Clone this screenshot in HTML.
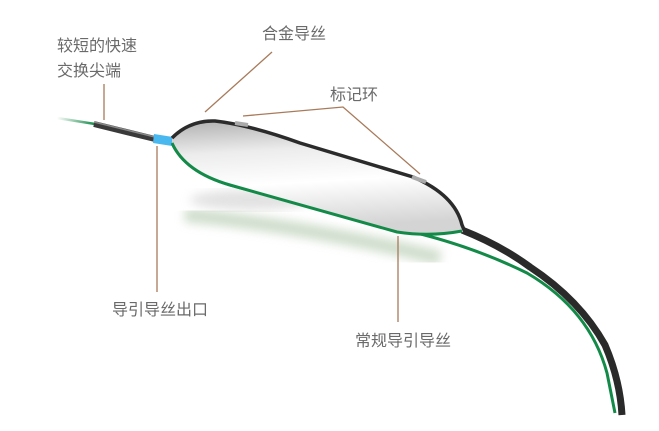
<!DOCTYPE html>
<html><head><meta charset="utf-8"><style>
html,body{margin:0;padding:0;background:#fff;}
svg{display:block}
text{font-family:"Liberation Sans","Noto Sans CJK SC",sans-serif;font-size:16px;fill:#6a6a6a;}
</style></head><body>
<svg width="659" height="431" viewBox="0 0 659 431" xmlns="http://www.w3.org/2000/svg">
<defs>
<linearGradient id="bal" x1="0" y1="0" x2="0.15" y2="1">
<stop offset="0" stop-color="#b0b0b0"/><stop offset="0.3" stop-color="#ececec"/>
<stop offset="0.6" stop-color="#ffffff"/><stop offset="1" stop-color="#d4d4d4"/>
</linearGradient>
<filter id="bl"><feGaussianBlur stdDeviation="5"/></filter>
<linearGradient id="wl" x1="0" x2="1"><stop offset="0" stop-color="#fff"/><stop offset="1" stop-color="#168a4a"/></linearGradient>
</defs>
<ellipse cx="250" cy="200" rx="60" ry="10" fill="#cfcfcf" filter="url(#bl)" opacity="0.6"/>
<path d="M185 215 Q300 225 440 258" stroke="#b9cdb4" stroke-width="14" fill="none" filter="url(#bl)" opacity="0.7"/>
<path d="M57 118 L95 124" stroke="url(#wl)" stroke-width="2.5" fill="none"/>
<path d="M172 143 Q185 172 230 185 L380 225 Q460 240 527 273 Q590 310 607 373 L615 413" stroke="#138a47" stroke-width="3" fill="none"/>
<path d="M462 230 Q500 245 530 267 Q580 300 605 345 Q620 380 622 415" stroke="#2a2a2a" stroke-width="7" fill="none"/>
<path d="M94 124 L155 139" stroke="#3a3a3a" stroke-width="6" fill="none"/>
<path d="M94 122 L155 137" stroke="#888" stroke-width="1.5" fill="none"/>
<path d="M154 134 L173 137 L172 146 L153 143 Z" fill="#49b8ef"/>
<path d="M172 138 Q190 120 215 121 Q250 125 300 143 L413 177 Q455 195 462 225 L465 232 Q430 235 397 232 L230 185 Q185 172 172 143 Z" fill="url(#bal)"/>
<path d="M172 138 Q190 120 215 121 Q250 125 300 143 L413 177 Q455 195 462 225 L465 232" stroke="#2b2b2b" stroke-width="3.5" fill="none"/>
<path d="M235 123 L248 125" stroke="#aaa" stroke-width="4"/>
<path d="M412 177 L426 182" stroke="#aaa" stroke-width="4"/>
<path d="M172 143 Q185 172 230 185 L397 232 Q430 237 462 231" stroke="#138a47" stroke-width="3" fill="none"/>
<g stroke="#a87a5a" stroke-width="1.3" fill="none">
<path d="M104 84 L104 120"/>
<path d="M272 52 L205 112"/>
<path d="M243 116 L343 107 L420 174"/>
<path d="M157 146 L157 292"/>
<path d="M398 236 L398 322"/>
</g>
<text x="57" y="51">较短的快速</text>
<text x="57" y="76">交换尖端</text>
<text x="262" y="39">合金导丝</text>
<text x="330" y="100">标记环</text>
<text x="112" y="315">导引导丝出口</text>
<text x="355" y="346">常规导引导丝</text>
</svg>
</body></html>
